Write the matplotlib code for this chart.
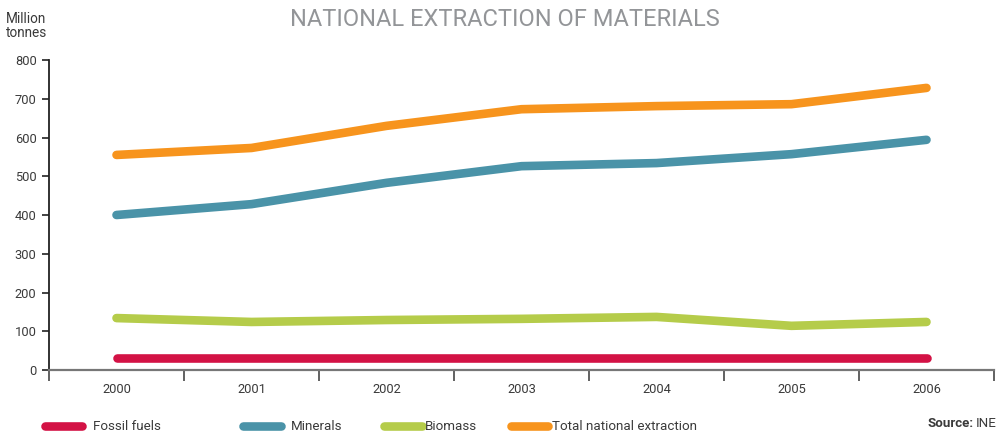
import matplotlib
matplotlib.use("Agg")
import matplotlib.pyplot as plt
from matplotlib.lines import Line2D

years = ["2000", "2001", "2002", "2003", "2004", "2005", "2006"]
fossil_fuels = [30, 30, 30, 30, 30, 30, 30]
minerals = [400, 428, 483, 526, 534, 557, 594]
biomass = [134, 124, 129, 132, 137, 114, 124]
total_extraction = [555, 573, 630, 673, 681, 686, 728]

series = [
    ("Fossil fuels", fossil_fuels, "#D31245"),
    ("Minerals", minerals, "#4A93A8"),
    ("Biomass", biomass, "#B5CC4A"),
    ("Total national extraction", total_extraction, "#F7941D"),
]

plt.rcParams["font.family"] = ["Roboto", "DejaVu Sans"]
text_color = "#3a3a3a"

fig = plt.figure(figsize=(10.02, 4.36), dpi=100)
W, H = 1002, 436
ax = fig.add_axes([49 / W, 1 - 370 / H, (994 - 49) / W, (370 - 60) / H])

x = list(range(len(years)))
for name, vals, color in series:
    ax.plot(x, vals, color=color, lw=6.2, solid_capstyle="round",
            solid_joinstyle="round", zorder=3)

ax.set_xlim(-0.5, len(years) - 0.5)
ax.set_ylim(0, 800)
ax.set_yticks(range(0, 801, 100))
ax.set_xticks(x)
ax.set_xticklabels(years)
ax.set_xticks([i + 0.5 for i in range(-1, len(years))], minor=True)

for s in ["top", "right"]:
    ax.spines[s].set_visible(False)
ax.spines["left"].set_color("#222222")
ax.spines["left"].set_linewidth(1.3)
ax.spines["bottom"].set_color("#777777")
ax.spines["bottom"].set_linewidth(1.6)

ax.tick_params(axis="y", direction="out", length=5, width=1.2, color="#222222",
               labelsize=9.3, labelcolor=text_color, pad=4)
ax.tick_params(axis="x", which="major", length=0, labelsize=9.3,
               labelcolor=text_color, pad=9)
ax.tick_params(axis="x", which="minor", direction="out", length=8, width=1.3,
               color="#555555")

fig.text(505 / W, 1 - 20 / H, "NATIONAL EXTRACTION OF MATERIALS",
         ha="center", va="center", fontsize=17, color="#939598")
fig.text(6 / W, 1 - 26 / H, "Million\ntonnes", ha="left", va="center",
         fontsize=9.8, color=text_color, linespacing=1.0)

# legend row at the bottom: (handle start, handle end, text start) in pixels
legend_items = [(45, 82, 93), (243, 281, 291), (384, 422, 425), (511, 548, 552)]
ly = 1 - 426 / H
for (x0, x1, tx), (name, vals, color) in zip(legend_items, series):
    fig.add_artist(Line2D([x0 / W, x1 / W], [ly, ly], color=color, lw=6.2,
                          solid_capstyle="round", transform=fig.transFigure))
    fig.text(tx / W, ly - 0.002, name, ha="left", va="center", fontsize=9.6,
             color=text_color)

src = fig.text(997 / W, 1 - 423 / H, "INE", ha="right", va="center",
               fontsize=9.6, color=text_color)
renderer = fig.canvas.get_renderer()
bb = src.get_window_extent(renderer)
fig.text((bb.x0 - 3) / W, 1 - 423 / H, "Source:", ha="right", va="center",
         fontsize=9.6, fontweight="bold", color=text_color)

fig.savefig("out.png", dpi=100)
